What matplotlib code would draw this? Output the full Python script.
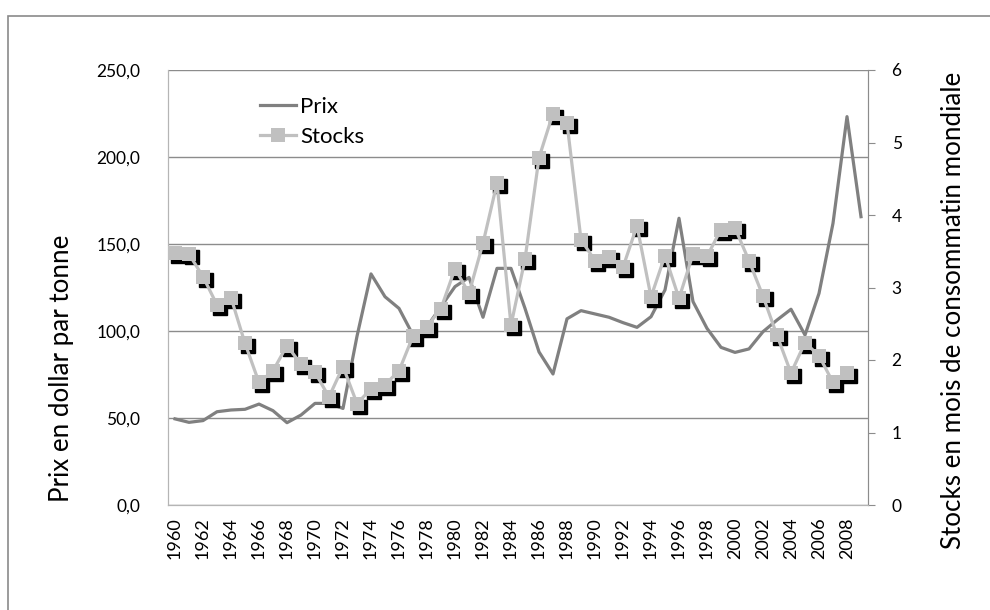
import numpy as np
import matplotlib.pyplot as plt
from matplotlib.transforms import offset_copy
from matplotlib.patches import Rectangle

plt.rcParams['font.family'] = ['Lato', 'DejaVu Sans']

# Donnees
annees = list(range(1960, 2010))
prix = [49.5, 47.5, 48.5, 53.6, 54.6, 55.0, 58.0, 54.2, 47.3, 51.7,
        58.4, 58.4, 55.5, 97.0, 132.8, 119.7, 113.0, 97.7, 102.5, 114.0,
        125.5, 130.8, 107.9, 136.0, 136.0, 113.0, 88.0, 75.3, 107.0, 111.7,
        109.8, 107.9, 104.8, 102.1, 108.2, 123.6, 164.8, 116.9, 101.5, 90.6,
        87.7, 89.7, 99.6, 106.3, 112.5, 97.7, 121.6, 161.9, 223.2, 165.7]
stocks = [3.47, 3.46, 3.15, 2.76, 2.86, 2.23, 1.69, 1.85, 2.20, 1.94,
          1.83, 1.49, 1.91, 1.40, 1.60, 1.66, 1.85, 2.33, 2.46, 2.71,
          3.26, 2.92, 3.61, 4.44, 2.48, 3.39, 4.79, 5.40, 5.27, 3.66,
          3.37, 3.42, 3.28, 3.85, 2.87, 3.44, 2.85, 3.46, 3.43, 3.80,
          3.82, 3.37, 2.88, 2.34, 1.82, 2.24, 2.06, 1.69, 1.82]
prix_ticks = [0, 50, 100, 150, 200, 250]
stock_ticks = [0, 1, 2, 3, 4, 5, 6]

x = np.arange(len(annees))
xs = x[:len(stocks)]

fig = plt.figure(figsize=(9.9, 6.1), dpi=100)
# cadre exterieur
fig.patches.append(Rectangle((8 / 990, -0.1), 1.2, (610 - 16) / 610 + 0.1,
                             transform=fig.transFigure, fill=False,
                             edgecolor='#8a8a8a', linewidth=1.2))

ax = fig.add_axes([168 / 990, 105 / 610, 700 / 990, 435 / 610])
ax2 = ax.twinx()

l1, = ax.plot(x, prix, color='#808080', linewidth=2.3, label='Prix', zorder=3)
ax.set_ylim(0, 250)
ax.set_xlim(-0.5, len(annees) - 0.5)
ax.set_yticks(prix_ticks)
ax.set_yticklabels([f'{v:.1f}'.replace('.', ',') for v in prix_ticks])
ax.yaxis.grid(True, color='#8c8c8c', linewidth=1)
ax.set_axisbelow(True)
ax.set_xticks(x[::2])
ax.set_xticklabels([str(a) for a in annees[::2]], rotation=90)
ax.tick_params(axis='x', length=0, labelsize=13, pad=9)
ax.tick_params(axis='y', length=0, labelsize=12.5, pad=20)
ax.set_ylabel('Prix en dollar par tonne', fontsize=18.7)
ax.yaxis.set_label_coords(-0.134, 0.315)

# ombre des marqueurs
ombre = offset_copy(ax2.transData, fig=fig, x=3, y=-3, units='dots')
ax2.plot(xs, stocks, linestyle='none', marker='s', markersize=9.5,
         color='black', transform=ombre, zorder=2)
l2, = ax2.plot(xs, stocks, color='#c0c0c0', linewidth=2.3, marker='s',
               markersize=9.5, markeredgewidth=0, label='Stocks', zorder=3)
ax2.set_ylim(0, 6)
ax2.set_yticks(stock_ticks)
ax2.tick_params(axis='y', length=5, color='#8c8c8c', labelsize=12.5, pad=12)
ax2.set_ylabel('Stocks en mois de consommatin mondiale', fontsize=18.7)
ax2.yaxis.set_label_coords(1.104, 0.448)

for a in (ax, ax2):
    for s in a.spines.values():
        s.set_color('#b5b5b5')
    a.spines['top'].set_visible(False)
ax2.spines['right'].set_color('#8c8c8c')

ax2.legend(handles=[l1, l2], loc='upper left', bbox_to_anchor=(0.103, 0.985),
           frameon=False, fontsize=16, handlelength=1.6, labelspacing=0.45,
           handletextpad=0.2)

fig.savefig('out.png', dpi=100)
